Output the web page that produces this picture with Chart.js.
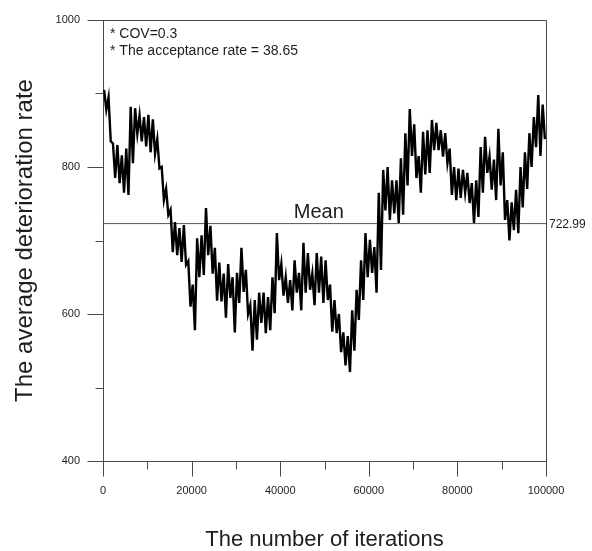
<!DOCTYPE html>
<html>
<head>
<meta charset="utf-8">
<script src="https://cdn.jsdelivr.net/npm/chart.js@4.4.1/dist/chart.umd.min.js"></script>
<style>
  html, body { margin: 0; padding: 0; background: #fff; }
  #wrap { width: 592px; height: 551px; }
</style>
</head>
<body>
<div id="wrap"><canvas id="c" width="592" height="551"></canvas></div>
<script>
// Sampled chain: per block of 1000 iterations, the highest and lowest value reached
const blockSize = 1000;
const blockHigh = [
  905, 895, 832, 830, 816, 825, 882, 880, 870, 868,
  871, 865, 838, 800, 770, 742, 725, 717, 721, 672,
  640, 703, 707, 744, 720, 690, 670, 655, 668, 650,
  656, 690, 660, 612, 619, 629, 629, 623, 650, 710,
  668, 650, 646, 673, 656, 697, 683, 655, 683, 678,
  673, 640, 619, 600, 575, 570, 605, 633, 673, 710,
  701, 691, 765, 796, 800, 782, 782, 812, 846, 879,
  858, 815, 848, 850, 864, 860, 850, 846, 825, 800,
  798, 796, 792, 778, 782, 827, 841, 814, 810, 852,
  820, 755, 752, 769, 800, 820, 846, 868, 898, 885
];
const blockLow = [
  878, 835, 785, 778, 765, 762, 805, 845, 835, 828,
  820, 818, 798, 755, 735, 684, 680, 671, 667, 610,
  578, 650, 653, 680, 655, 618, 617, 595, 622, 575,
  615, 630, 600, 550, 565, 588, 574, 578, 601, 646,
  625, 615, 605, 629, 605, 629, 633, 612, 629, 615,
  619, 576, 574, 548, 530, 521, 550, 592, 619, 650,
  656, 629, 660, 741, 728, 737, 724, 735, 775, 815,
  785, 765, 790, 792, 823, 823, 814, 805, 762, 755,
  758, 765, 751, 724, 732, 765, 792, 769, 755, 775,
  728, 700, 714, 710, 745, 770, 800, 827, 815, 838
];
const meanValue = 722.99;
const covText = '* COV=0.3';
const acceptanceText = '* The acceptance rate = 38.65';

const xMajorTicks = [0, 20000, 40000, 60000, 80000, 100000];
const xMinorTicks = [10000, 30000, 50000, 70000, 90000];
const yMajorTicks = [400, 600, 800, 1000];
const yMinorTicks = [500, 700, 900];

const FONT = "Arial, 'Liberation Sans', sans-serif";
const INK = '#1e1e1e';
const AXIS = '#4a4a4a';

// trace points: high then low inside every block
const trace = [];
blockHigh.forEach((hi, i) => {
  trace.push({ x: i * blockSize + blockSize * 0.25, y: hi });
  trace.push({ x: i * blockSize + blockSize * 0.75, y: blockLow[i] });
});

const framePlugin = {
  id: 'frame',
  afterDraw(chart) {
    const { ctx, chartArea: a, scales: { x, y } } = chart;
    ctx.save();
    ctx.strokeStyle = AXIS;
    ctx.lineWidth = 1;
    ctx.beginPath();
    ctx.moveTo(a.left, Math.round(a.top) + 0.5);
    ctx.lineTo(Math.round(a.right) + 0.5, Math.round(a.top) + 0.5);
    ctx.lineTo(Math.round(a.right) + 0.5, a.bottom);
    ctx.stroke();

    // tick marks outside the axes, long for labelled values
    const bottom = Math.round(a.bottom) + 0.5;
    const left = Math.round(a.left) + 0.5;
    ctx.beginPath();
    xMajorTicks.forEach(v => { const px = Math.round(x.getPixelForValue(v)) + 0.5; ctx.moveTo(px, bottom); ctx.lineTo(px, bottom + 15); });
    xMinorTicks.forEach(v => { const px = Math.round(x.getPixelForValue(v)) + 0.5; ctx.moveTo(px, bottom); ctx.lineTo(px, bottom + 8); });
    yMajorTicks.forEach(v => { const py = Math.round(y.getPixelForValue(v)) + 0.5; ctx.moveTo(left, py); ctx.lineTo(left - 16, py); });
    yMinorTicks.forEach(v => { const py = Math.round(y.getPixelForValue(v)) + 0.5; ctx.moveTo(left, py); ctx.lineTo(left - 8, py); });
    ctx.stroke();

    // notes and mean labels
    ctx.fillStyle = INK;
    ctx.textBaseline = 'alphabetic';
    ctx.textAlign = 'left';
    ctx.font = '14px ' + FONT;
    ctx.fillText(covText, a.left + 7, a.top + 18);
    ctx.fillText(acceptanceText, a.left + 7, a.top + 35);

    const my = y.getPixelForValue(meanValue);
    ctx.font = '20px ' + FONT;
    ctx.textAlign = 'center';
    ctx.fillText('Mean', x.getPixelForValue(48700), my - 6);

    ctx.font = '12px ' + FONT;
    ctx.textAlign = 'left';
    ctx.textBaseline = 'middle';
    ctx.fillText(meanValue.toFixed(2), a.right + 3, my + 1);
    ctx.restore();
  }
};

// keep label overflow from pushing the plot area inwards
const noLabelPadding = s => { s.paddingTop = 0; s.paddingBottom = 0; s.paddingLeft = 0; s.paddingRight = 0; };

new Chart(document.getElementById('c'), {
  type: 'line',
  data: {
    datasets: [
      {
        data: trace,
        borderColor: '#000',
        borderWidth: 2.4,
        pointRadius: 0,
        tension: 0
      },
      {
        data: [{ x: 0, y: meanValue }, { x: 100000, y: meanValue }],
        borderColor: '#555',
        borderWidth: 1,
        pointRadius: 0,
        tension: 0
      }
    ]
  },
  options: {
    responsive: false,
    animation: false,
    events: [],
    layout: { padding: { top: 20, right: 46, left: 0, bottom: 0 } },
    plugins: { legend: { display: false }, tooltip: { enabled: false } },
    scales: {
      x: {
        type: 'linear',
        min: 0,
        max: 100000,
        afterBuildTicks: s => { s.ticks = xMajorTicks.map(v => ({ value: v })); },
        afterFit: s => { s.height = 90; noLabelPadding(s); },
        grid: { display: false, drawTicks: false },
        border: { display: true, color: AXIS, width: 1 },
        ticks: {
          padding: 23,
          maxRotation: 0,
          autoSkip: false,
          color: INK,
          font: { family: FONT, size: 11 },
          callback: v => String(v)
        },
        title: {
          display: true,
          text: 'The number of iterations',
          color: INK,
          font: { family: FONT, size: 22, lineHeight: 1 },
          padding: 0
        }
      },
      y: {
        type: 'linear',
        min: 400,
        max: 1000,
        afterBuildTicks: s => { s.ticks = yMajorTicks.map(v => ({ value: v })); },
        afterFit: s => { s.width = 103; noLabelPadding(s); },
        grid: { display: false, drawTicks: false },
        border: { display: true, color: AXIS, width: 1 },
        ticks: {
          padding: 23,
          autoSkip: false,
          color: INK,
          font: { family: FONT, size: 11 },
          callback: v => String(v)
        },
        title: {
          display: true,
          text: 'The average deterioration rate',
          color: INK,
          font: { family: FONT, size: 24, lineHeight: 1.2 },
          padding: { top: 11, bottom: 0 }
        }
      }
    }
  },
  plugins: [framePlugin]
});
</script>
</body>
</html>
